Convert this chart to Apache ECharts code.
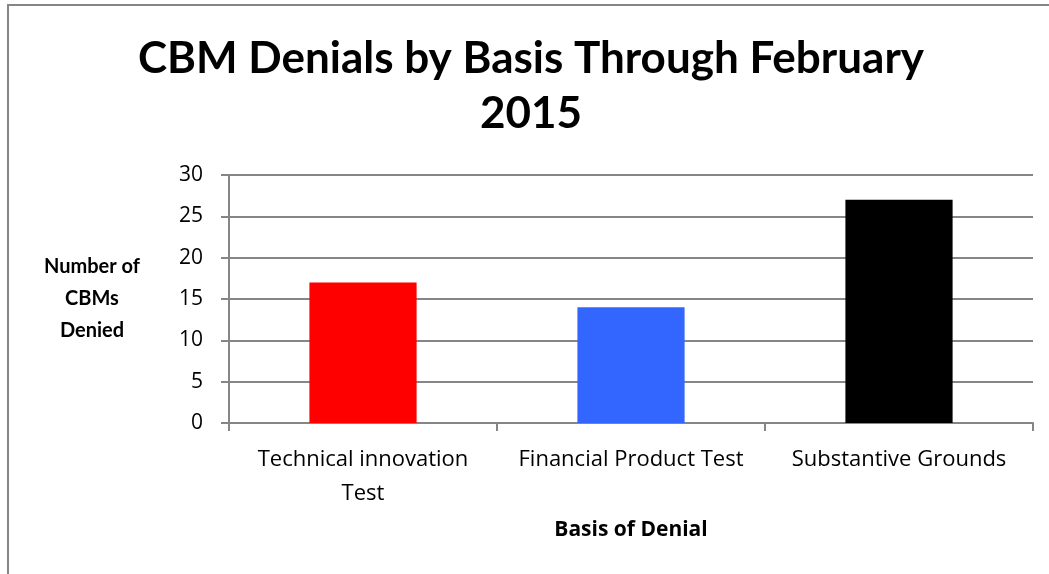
<!DOCTYPE html>
<html><head><meta charset="utf-8">
<script src="https://cdn.jsdelivr.net/npm/echarts@6/dist/echarts.min.js"></script>
<style>html,body{margin:0;padding:0;background:#fff}#c{width:1049px;height:574px}</style>
</head><body><div id="c"></div>
<script>
const categories = ['Technical innovation\nTest', 'Financial Product Test', 'Substantive Grounds'];
const values = [17, 14, 27];
const barColors = ['#FF0000', '#3366FF', '#000000'];
const yTicks = [0, 5, 10, 15, 20, 25, 30];

const chart = echarts.init(document.getElementById('c'), null, {renderer: 'canvas'});
const F = 'Lato, "Open Sans", sans-serif';
const O = '"Open Sans", sans-serif';
chart.setOption({
  animation: false,
  backgroundColor: '#fff',
  graphic: [{type: 'rect', shape: {x: 8, y: 5, width: 1100, height: 700}, style: {fill: 'none', stroke: '#868686', lineWidth: 2}}],
  title: {
    text: 'CBM Denials by Basis Through February\n2015',
    left: 526, top: 26, textAlign: 'center',
    textStyle: {fontFamily: F, fontWeight: 'bold', fontSize: 44, lineHeight: 55, color: '#000'}
  },
  grid: {left: 229, right: 16, top: 175, bottom: 151, containLabel: false},
  xAxis: {
    type: 'category', data: categories,
    name: 'Basis of Denial', nameLocation: 'middle', nameGap: 97,
    nameTextStyle: {fontFamily: O, fontWeight: 'bold', fontSize: 21, color: '#000'},
    axisLine: {lineStyle: {color: '#868686', width: 2}},
    axisTick: {show: true, interval: 0, length: 8, lineStyle: {color: '#868686', width: 2}},
    axisLabel: {interval: 0, hideOverlap: false, fontFamily: O, fontSize: 22, color: '#000', margin: 20, lineHeight: 34},
    splitLine: {show: false}
  },
  yAxis: {
    type: 'value', min: 0, max: 30, interval: 5,
    name: 'Number of\nCBMs\nDenied', nameLocation: 'middle', nameGap: 137, nameRotate: 0,
    nameTextStyle: {fontFamily: F, fontWeight: 'bold', fontSize: 20, color: '#000', lineHeight: 32, align: 'center', padding: [4, 0, 0, 0]},
    axisLine: {show: true, lineStyle: {color: '#868686', width: 2}},
    axisTick: {show: true, length: 8, lineStyle: {color: '#868686', width: 2}},
    axisLabel: {fontFamily: O, fontSize: 21, color: '#000', margin: 26,
      formatter: v => yTicks.includes(v) ? String(v) : ''},
    splitLine: {lineStyle: {color: '#868686', width: 2}}
  },
  series: [{
    type: 'bar', barWidth: '40%',
    data: values.map((v, i) => ({value: v, itemStyle: {color: barColors[i]}}))
  }]
});
</script></body></html>
